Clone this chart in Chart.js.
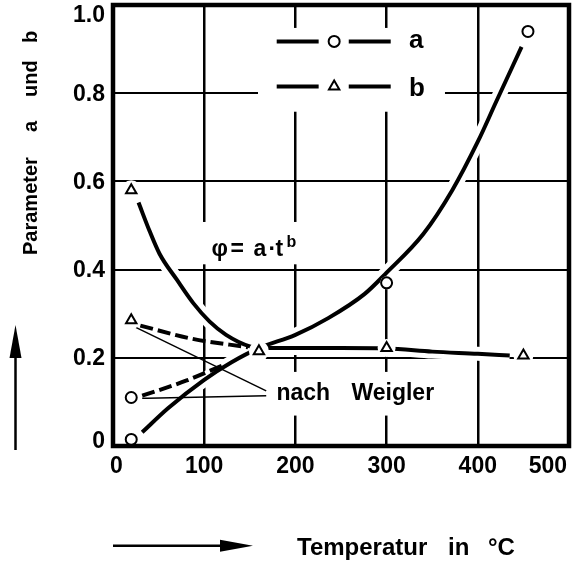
<!DOCTYPE html>
<html>
<head>
<meta charset="utf-8">
<script src="https://cdn.jsdelivr.net/npm/chart.js@4.4.1/dist/chart.umd.min.js"></script>
<style>
  html, body { margin: 0; padding: 0; background: #fff; }
  #wrap { width: 573px; height: 561px; position: relative; }
</style>
</head>
<body>
<div id="wrap"><canvas id="chart"></canvas></div>
<script>
// axis ticks
const xTicks = [0, 100, 200, 300, 400, 500];
const yTicks = [0, 0.2, 0.4, 0.6, 0.8, 1.0];
const yTickLabels = ['0', '0.2', '0.4', '0.6', '0.8', '1.0'];

// measured points: circles = a, triangles = b
const aTemp = [20, 300, 455];
const aValues = [0.015, 0.37, 0.94];
const bTemp = [20, 160, 300, 450];
const bValues = [0.58, 0.215, 0.222, 0.205];

// values nach Weigler (20 °C)
const weiglerTemp = [20];
const weiglerA = [0.11];
const weiglerB = [0.285];

// drawn curves
const aCurveTemp = [32, 60, 100, 130, 160, 200, 236, 276, 300, 340, 372, 400, 420, 448];
const aCurveValues = [0.031, 0.085, 0.15, 0.19, 0.222, 0.252, 0.29, 0.345, 0.393, 0.48, 0.58, 0.69, 0.78, 0.905];
const bCurveTemp = [28, 40, 51, 70, 88, 106, 124, 150, 170, 200, 250, 300, 350, 400, 435];
const bCurveValues = [0.552, 0.488, 0.436, 0.377, 0.324, 0.282, 0.252, 0.226, 0.222, 0.222, 0.222, 0.221, 0.214, 0.209, 0.205];

// dashed curves nach Weigler
const wACurveTemp = [32, 80, 124];
const wACurveValues = [0.114, 0.148, 0.186];
const wBCurveTemp = [30, 87, 148];
const wBCurveValues = [0.273, 0.243, 0.224];

// thin pointer lines to the "nach Weigler" note
const pointer1Temp = [25, 168];
const pointer1Values = [0.269, 0.125];
const pointer2Temp = [32, 168];
const pointer2Values = [0.108, 0.114];

const pts = (xs, ys) => xs.map((x, i) => ({ x: x, y: ys[i] }));

const FONT = '"Liberation Sans", Arial, sans-serif';

function line(xs, ys, extra) {
    return Object.assign({
        data: pts(xs, ys),
        borderColor: '#000',
        borderWidth: 4,
        pointRadius: 0,
        fill: false,
        tension: 0.4,
        cubicInterpolationMode: 'monotone',
        borderCapStyle: 'butt',
        order: 5
    }, extra);
}

function markers(xs, ys, style, extra) {
    return Object.assign({
        data: pts(xs, ys),
        showLine: false,
        pointStyle: style,
        pointRadius: style === 'triangle' ? 6 : 5.5,
        pointBorderWidth: 2,
        pointBorderColor: '#000',
        pointBackgroundColor: '#fff',
        order: 1
    }, extra);
}

// white boxes behind texts (grid is broken there in the original)
const whiteBoxes = [
    { x0: 159, x1: 364, y0: 0.758, y1: 0.948 },
    { x0: 95, x1: 210, y0: 0.412, y1: 0.508 },
    { x0: 172, x1: 364, y0: 0.069, y1: 0.168 }
];

// legend layout (data coordinates)
const legendRows = [
    { label: 'a', y: 0.9175, marker: 'circle' },
    { label: 'b', y: 0.8154, marker: 'triangle' }
];

function drawMarker(ctx, kind, px, py) {
    ctx.beginPath();
    if (kind === 'circle') {
        ctx.arc(px, py, 5.5, 0, Math.PI * 2);
    } else {
        const r = 6;
        for (let k = 0; k < 3; k++) {
            const a = k * 2 * Math.PI / 3;
            const fx = px + Math.sin(a) * r, fy = py - Math.cos(a) * r;
            k === 0 ? ctx.moveTo(fx, fy) : ctx.lineTo(fx, fy);
        }
        ctx.closePath();
    }
    ctx.fillStyle = '#fff';
    ctx.fill();
    ctx.lineWidth = 2;
    ctx.strokeStyle = '#000';
    ctx.stroke();
}

const decor = {
    id: 'decor',
    beforeDatasetsDraw(chart) {
        const { ctx, scales: { x, y } } = chart;
        ctx.save();
        ctx.fillStyle = '#fff';
        whiteBoxes.forEach(b => {
            const x0 = x.getPixelForValue(b.x0), x1 = x.getPixelForValue(b.x1);
            const y0 = y.getPixelForValue(b.y0), y1 = y.getPixelForValue(b.y1);
            ctx.fillRect(x0, y1, x1 - x0, y0 - y1);
        });
        ctx.restore();
    },
    afterDatasetsDraw(chart) {
        const { ctx, chartArea: area, scales: { x, y } } = chart;
        ctx.save();

        // frame
        ctx.strokeStyle = '#000';
        ctx.lineWidth = 4.5;
        ctx.strokeRect(area.left, area.top, area.right - area.left, area.bottom - area.top);

        // tick labels
        ctx.fillStyle = '#000';
        ctx.font = 'bold 23px ' + FONT;
        ctx.textAlign = 'right';
        ctx.textBaseline = 'middle';
        yTicks.forEach((v, i) => {
            let py = y.getPixelForValue(v) + 1;
            py = Math.min(Math.max(py, area.top + 10.5), area.bottom - 4);
            ctx.fillText(yTickLabels[i], area.left - 8, py);
        });
        ctx.textAlign = 'left';
        xTicks.forEach(v => {
            const s = String(v);
            const w = ctx.measureText(s).width;
            let lx = x.getPixelForValue(v) - w / 2;
            lx = Math.min(Math.max(lx, area.left - 3), area.right - 2 - w);
            ctx.fillText(s, lx, area.bottom + 21);
        });

        // legend
        legendRows.forEach(r => {
            const py = y.getPixelForValue(r.y);
            ctx.lineWidth = 4;
            ctx.beginPath();
            ctx.moveTo(x.getPixelForValue(179.5), py);
            ctx.lineTo(x.getPixelForValue(225.5), py);
            ctx.moveTo(x.getPixelForValue(258.5), py);
            ctx.lineTo(x.getPixelForValue(304.5), py);
            ctx.stroke();
            drawMarker(ctx, r.marker, x.getPixelForValue(242.5), py);
            ctx.fillStyle = '#000';
            ctx.font = 'bold 26px ' + FONT;
            ctx.textBaseline = 'alphabetic';
            const m = ctx.measureText(r.label);
            const base = py + (m.actualBoundingBoxAscent - m.actualBoundingBoxDescent) / 2;
            ctx.fillText(r.label, x.getPixelForValue(324.5), base);
        });

        // formula
        const fx = x.getPixelForValue(108), fy = y.getPixelForValue(0.430);
        ctx.font = 'bold 23px ' + FONT;
        ctx.textBaseline = 'alphabetic';
        ctx.fillText('\u03C6', fx, fy);
        ctx.fillText('=', fx + 19, fy);
        ctx.fillText('a', fx + 42, fy);
        ctx.fillText('\u00B7', fx + 57, fy);
        ctx.fillText('t', fx + 64, fy);
        ctx.font = 'bold 16px ' + FONT;
        ctx.fillText('b', fx + 75, fy - 9);

        // note
        const nx = x.getPixelForValue(179.2), ny = y.getPixelForValue(0.1037);
        ctx.font = 'bold 23px ' + FONT;
        ctx.fillText('nach', nx, ny);
        ctx.fillText('Weigler', nx + 75, ny);

        // x title + arrow
        ctx.font = 'bold 24px ' + FONT;
        ctx.fillText('Temperatur', 297, 555);
        ctx.fillText('in', 448, 555);
        ctx.fillText('\u00B0C', 488, 555);
        ctx.lineWidth = 2.5;
        ctx.beginPath();
        ctx.moveTo(113, 545.7);
        ctx.lineTo(225, 545.7);
        ctx.stroke();
        ctx.beginPath();
        ctx.moveTo(253, 545.7);
        ctx.lineTo(220, 539.7);
        ctx.lineTo(220, 551.7);
        ctx.closePath();
        ctx.fill();

        // y title + arrow
        ctx.save();
        ctx.translate(36.7, 255);
        ctx.rotate(-Math.PI / 2);
        ctx.font = 'bold 20px ' + FONT;
        ctx.fillText('Parameter', 0, 0);
        ctx.fillText('a', 123, 0);
        ctx.fillText('und', 158, 0);
        ctx.fillText('b', 212, 0);
        ctx.restore();
        ctx.beginPath();
        ctx.moveTo(15.5, 450);
        ctx.lineTo(15.5, 352);
        ctx.stroke();
        ctx.beginPath();
        ctx.moveTo(15.5, 325);
        ctx.lineTo(9.5, 358);
        ctx.lineTo(21.5, 358);
        ctx.closePath();
        ctx.fill();

        ctx.restore();
    }
};

const tickSetter = list => s => { s.ticks = list.map(v => ({ value: v })); };

new Chart(document.getElementById('chart'), {
    type: 'line',
    data: {
        datasets: [
            // white halos so the grid breaks where the curves cross it
            line(aCurveTemp, aCurveValues, { borderColor: '#fff', borderWidth: 14, order: 9 }),
            line(bCurveTemp, bCurveValues, { borderColor: '#fff', borderWidth: 14, order: 9 }),
            line(aCurveTemp, aCurveValues),
            line(bCurveTemp, bCurveValues),
            line(wACurveTemp, wACurveValues, { borderDash: [13, 5] }),
            line(wBCurveTemp, wBCurveValues, { borderDash: [13, 5] }),
            line(pointer1Temp, pointer1Values, { borderWidth: 1.5, tension: 0 }),
            line(pointer2Temp, pointer2Values, { borderWidth: 1.5, tension: 0 }),
            // white gaps around the markers
            markers(aTemp.concat(bTemp, weiglerTemp, weiglerTemp), aValues.concat(bValues, weiglerA, weiglerB), 'circle',
                { pointRadius: [9, 6.5, 9, 10, 10, 9, 10, 9, 9], pointBorderWidth: 0, order: 2 }),
            markers(aTemp, aValues, 'circle'),
            markers(bTemp, bValues, 'triangle'),
            markers(weiglerTemp, weiglerA, 'circle'),
            markers(weiglerTemp, weiglerB, 'triangle')
        ]
    },
    options: {
        responsive: true,
        maintainAspectRatio: false,
        animation: false,
        layout: { autoPadding: false, padding: { left: 113, top: 5, right: 4, bottom: 115 } },
        plugins: { legend: { display: false }, tooltip: { enabled: false } },
        scales: {
            x: {
                type: 'linear', min: 0, max: 500,
                afterBuildTicks: tickSetter(xTicks),
                ticks: { display: false },
                grid: { color: '#000', lineWidth: 2.5, drawTicks: false },
                border: { display: false }
            },
            y: {
                type: 'linear', min: 0, max: 1,
                afterBuildTicks: tickSetter(yTicks),
                ticks: { display: false },
                grid: { color: '#000', lineWidth: 2, drawTicks: false },
                border: { display: false }
            }
        }
    },
    plugins: [decor]
});
</script>
</body>
</html>
